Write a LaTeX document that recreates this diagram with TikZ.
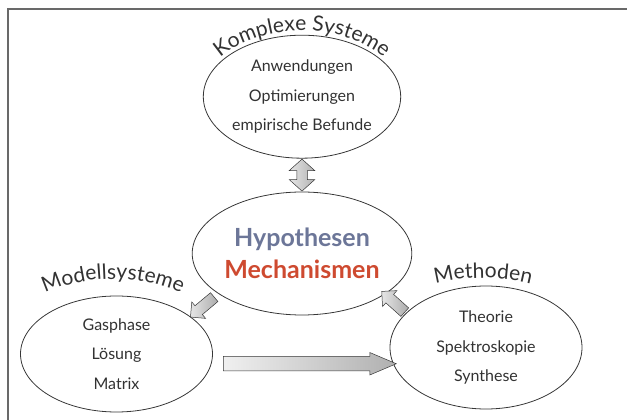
\documentclass[tikz,border=0pt]{standalone}
\usepackage{fontspec}
\setmainfont{Lato}
\usetikzlibrary{calc}
\usetikzlibrary{positioning}
\usetikzlibrary{shapes.geometric}
\usetikzlibrary{shapes.arrows}
\usetikzlibrary{decorations.text}

\definecolor{linegray}{RGB}{55,55,55}
\definecolor{framegray}{RGB}{105,105,105}
\definecolor{textgray}{RGB}{50,50,50}
\definecolor{hypcol}{RGB}{108,118,152}
\definecolor{mechcol}{RGB}{206,74,48}
\newcommand{\arcfont}{\fontsize{21}{21}\selectfont\color{textgray}}

\begin{document}
\begin{tikzpicture}[x=1pt,y=1pt,node distance=33pt,
	bubble/.style={draw=linegray,ellipse,line width=0.8pt,minimum width=192pt,minimum height=123pt,inner sep=0pt,align=center,text=textgray,font=\fontsize{16}{29.5}\selectfont},
	arctext/.style={decorate,decoration={text along path,text align=center}},
	sarrow/.style={single arrow,draw=linegray,line width=0.5pt,inner xsep=0pt,inner ysep=5.5pt,minimum height=31pt,minimum width=21pt,single arrow head extend=5pt,single arrow tip angle=90,left color=gray!20,right color=gray!65},
	darrow/.style={double arrow,draw=linegray,line width=0.5pt,inner xsep=0pt,inner ysep=5pt,minimum height=32pt,minimum width=25pt,double arrow head extend=7.5pt,double arrow tip angle=96,left color=gray!20,right color=gray!60}]
		\useasboundingbox (0,0) rectangle (627,420);
		\draw [framegray,line width=1.6pt] (8,0) -- (8,411) -- (627,411);

		\node [bubble,font=\fontsize{25}{32}\selectfont\bfseries] (hypo) at (302,166.5) {{\color{hypcol}Hypothesen}\\{\color{mechcol}Mechanismen}};
		\node [bubble,above=of hypo] (komplex) {Anwendungen\\Optimierungen\\empirische Befunde};
		\node [bubble,minimum height=116pt] (modell) at (116.5,66) {Gasphase\\Lösung\\Matrix};
		\node [bubble] (methoden) at (486,72.5) {Theorie\\Spektroskopie\\Synthese};

		% titles on top of the ellipses
		\path [arctext,decoration={text={|\arcfont|Komplexe Systeme}}]
			([shift={(160:101 and 66)}]komplex.center) arc [start angle=160,end angle=20,x radius=101,y radius=66];
		\path [arctext,decoration={text={|\arcfont|Modellsysteme}}]
			([shift={(-3.5,15)}]modell.center) ++(150:105 and 60) arc [start angle=150,end angle=30,x radius=105,y radius=60];
		\path [arctext,decoration={text={|\arcfont|Methoden}}]
			([shift={(-3,9.5)}]methoden.center) ++(150:110 and 60) arc [start angle=150,end angle=30,x radius=110,y radius=60];

		% block arrows
		\node [darrow,rotate=90] (updown) at ($(komplex.south)!0.5!(hypo.north)$) {};
		\node [sarrow,rotate=220] (tomodell) at ($(hypo.206)!0.5!(modell.27)$) {};
		\node [sarrow,rotate=138] (tohypo) at ($(methoden.157)!0.5!(hypo.334)$) {};
		\node [sarrow,minimum height=173pt,minimum width=22pt,inner ysep=7pt,single arrow head extend=4pt,single arrow tip angle=46,left color=gray!12,right color=gray!62] (across) at ($(modell.east)!0.5!(methoden.west)+(0,-13)$) {};
	\end{tikzpicture}
\end{document}
